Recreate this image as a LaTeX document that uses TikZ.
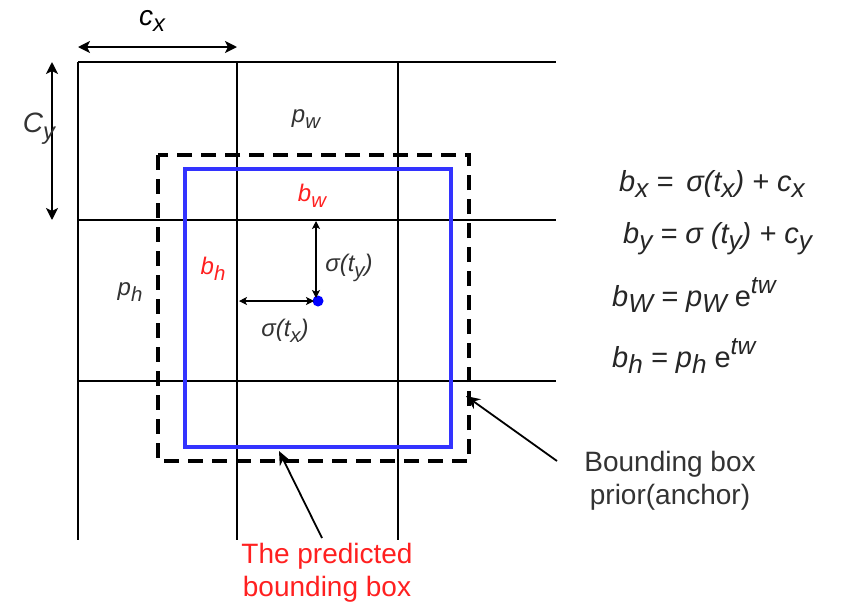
\documentclass[tikz,border=0pt]{standalone}
\usepackage{fontspec}
\setmainfont{Liberation Sans}
\usetikzlibrary{arrows.meta}
\definecolor{bluebox}{HTML}{3333FF}
\definecolor{txt}{HTML}{333333}
\definecolor{redt}{HTML}{FF2020}
\newcommand{\sbs}[1]{\raisebox{-0.45ex}{\scalebox{0.85}{#1}}}
\newcommand{\sps}[1]{\raisebox{0.9ex}{\scalebox{0.85}{#1}}}
\newcommand{\esb}[1]{\raisebox{-0.4ex}{\scalebox{0.9}{#1}}}
\begin{document}
\begin{tikzpicture}[x=1pt,y=-1pt,
  gridline/.style={line width=1.8pt},
  dim/.style={line width=2pt,{Stealth[length=12pt,width=12pt,inset=3pt]}-{Stealth[length=12pt,width=12pt,inset=3pt]}},
  smalldim/.style={line width=1.1pt,{Stealth[length=8pt,width=8pt,inset=2pt]}-{Stealth[length=8pt,width=8pt,inset=2pt]}},
  pointer/.style={line width=1.8pt,-{Stealth[length=14pt,width=12pt]}},
  lbl/.style={font=\fontsize{24}{28}\selectfont\itshape, text=txt, inner sep=0pt},
  redlbl/.style={font=\fontsize{24}{28}\selectfont\itshape, text=redt, inner sep=0pt},
  eq/.style={font=\fontsize{29}{32}\selectfont\itshape, text=black!85, inner sep=0pt, anchor=west},
  capt/.style={font=\fontsize{28}{33}\selectfont, align=center, inner sep=0pt}]
\useasboundingbox (0,0) rectangle (842,606);
\fill[white] (0,0) rectangle (842,606);

% grid coordinates
\coordinate (g00) at (78,62);
\coordinate (g0e) at (556,62);
\coordinate (g10) at (78,220);
\coordinate (g1e) at (556,220);
\coordinate (g20) at (78,381);
\coordinate (g2e) at (556,381);
\coordinate (v0b) at (78,540);
\coordinate (v1t) at (237,62);
\coordinate (v1b) at (237,540);
\coordinate (v2t) at (398,62);
\coordinate (v2b) at (398,540);

\draw[gridline] (g00) -- (g0e);
\draw[gridline] (g10) -- (g1e);
\draw[gridline] (g20) -- (g2e);
\draw[gridline] (g00) -- (v0b);
\draw[gridline] (v1t) -- (v1b);
\draw[gridline] (v2t) -- (v2b);

% prior (dashed) and predicted (blue) boxes
\draw[line width=3.6pt, dash pattern=on 15pt off 9pt] (158,155) rectangle (469,461);
\draw[line width=4pt, bluebox] (185,169) rectangle (451,447);
\coordinate (priorpt) at (466,396);
\coordinate (predpt) at (279,451);

% dimension arrows
\coordinate (cxl) at (78,47);
\coordinate (cxr) at (237,47);
\draw[dim] (cxl) -- (cxr);
\node[font=\fontsize{28}{32}\selectfont\itshape, inner sep=0pt] (cx) at (152,21) {c\sbs{x}};
\coordinate (cyt) at (52,62);
\coordinate (cyb) at (52,220);
\draw[dim] (cyt) -- (cyb);
\node[font=\fontsize{28}{32}\selectfont\itshape, text=txt, inner sep=0pt] (cy) at (39,129) {C\sbs{y}};

% centre point and offsets
\node[circle, fill=blue, inner sep=0pt, minimum size=11pt] (ctr) at (318,301) {};
\coordinate (sty) at (316,221);
\coordinate (stx) at (239,301);
\draw[smalldim] (sty) -- (316,298);
\draw[smalldim] (stx) -- (314,301);

% labels
\node[lbl] (pw) at (306,119) {p\sbs{w}};
\node[lbl] (ph) at (130,292) {p\sbs{h}};
\node[redlbl] (bw) at (312,196) {b\sbs{w}};
\node[redlbl] (bh) at (213,269) {b\sbs{h}};
\node[lbl] (sy) at (349,268) {σ(t\sbs{y})};
\node[lbl] (sx) at (285,331) {σ(t\sbs{x})};

% equations
\node[eq] (eqx) at (619,184) {b\esb{x} = \,σ(t\esb{x}) + c\esb{x}};
\node[eq] (eqy) at (623,239) {b\esb{y} = σ (t\esb{y}) + c\esb{y}};
\node[eq] (eqw) at (612,295) {b\esb{W} = p\esb{W} \textup{e}\sps{tw}};
\node[eq] (eqh) at (612,356) {b\esb{h} = p\esb{h} \textup{e}\sps{tw}};

% captions and pointers
\node[capt, text=txt] (priorcap) at (670,481) {Bounding box\\prior(anchor)};
\node[capt, text=redt] (predcap) at (327,573) {The predicted\\bounding box};
\coordinate (priorstart) at (557,461);
\coordinate (predstart) at (322,538);
\draw[pointer] (priorstart) -- (priorpt);
\draw[pointer] (predstart) -- (predpt);
\end{tikzpicture}
\end{document}
